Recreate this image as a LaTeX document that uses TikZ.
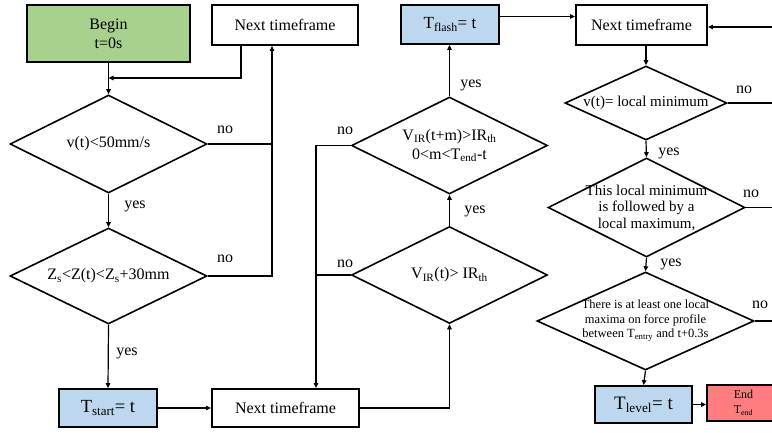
\documentclass[tikz,border=0pt]{standalone}
\usepackage{fontspec}
\setmainfont{Liberation Serif}
\usetikzlibrary{shapes.geometric,arrows.meta}
\definecolor{startgreen}{HTML}{A9D18E}
\definecolor{setblue}{HTML}{BDD7EE}
\definecolor{endred}{HTML}{FF7C80}
\begin{document}
\begin{tikzpicture}[x=1pt,y=-1pt,
  box/.style={draw, line width=1.8pt, inner sep=0pt, align=center, font=\fontsize{16}{19}\selectfont},
  dia/.style={draw, diamond, line width=1.6pt, inner sep=0pt},
  dtext/.style={align=center, inner sep=0pt, font=\fontsize{16}{19}\selectfont},
  lbl/.style={inner sep=0pt, font=\fontsize{16}{19}\selectfont},
  ln/.style={line width=1.2pt},
  arr/.style={line width=1.2pt, -{Triangle[length=5pt,width=4.5pt]}}]
\useasboundingbox (0,0) rectangle (772,432);

% boxes
\node[box, fill=startgreen, minimum width=163pt, minimum height=57pt] (begin) at (108.5,33.5) {Begin\\t=0s};
\node[box, minimum width=146pt, minimum height=40pt] (nt1) at (285,25) {Next timeframe};
\node[box, fill=setblue, minimum width=98pt, minimum height=38pt, font=\fontsize{18.5}{20}\selectfont] (tstart) at (108,408) {T\textsubscript{start}= t};
\node[box, minimum width=147pt, minimum height=38pt] (nt2) at (285.5,408) {Next timeframe};
\node[box, fill=setblue, minimum width=98pt, minimum height=39pt, font=\fontsize{17}{20}\selectfont] (tflash) at (450,24.5) {T\textsubscript{flash}= t};
\node[box, minimum width=131pt, minimum height=40pt] (nt3) at (641.5,25) {Next timeframe};
\node[box, fill=setblue, minimum width=97pt, minimum height=37pt, font=\fontsize{19}{21}\selectfont] (tlevel) at (643.5,404.5) {T\textsubscript{level}= t};
\node[box, fill=endred, minimum width=73pt, minimum height=36pt, font=\fontsize{12}{15}\selectfont] (end) at (743.5,403) {End\\T\textsubscript{end}};

% diamonds
\node[dia, minimum width=197pt, minimum height=98pt, label={[dtext]center:v(t)<50mm/s}] (d1) at (108.5,144) {};
\node[dia, minimum width=197pt, minimum height=96pt, label={[dtext]center:Z\textsubscript{s}<Z(t)<Z\textsubscript{s}+30mm}] (d2) at (108.5,276) {};
\node[dia, minimum width=196pt, minimum height=97pt, label={[dtext]center:V\textsubscript{IR}(t+m)>IR\textsubscript{th}\\0<m<T\textsubscript{end}-t}] (d3) at (449.5,145.5) {};
\node[dia, minimum width=196pt, minimum height=97pt, label={[dtext]center:V\textsubscript{IR}(t)> IR\textsubscript{th}}] (d4) at (449.5,275) {};
\node[dia, minimum width=162pt, minimum height=74pt, label={[dtext, font=\fontsize{15}{17}\selectfont]center:v(t)= local minimum}] (d5) at (646,103) {};
\node[dia, minimum width=197pt, minimum height=99pt, label={[dtext, font=\fontsize{15}{16.5}\selectfont]center:This local minimum\\is followed by a\\local maximum,}] (d6) at (646.5,207.5) {};
\node[dia, minimum width=217pt, minimum height=98pt, label={[dtext, font=\fontsize{12.5}{14.5}\selectfont]center:There is at least one local\\maxima on force profile\\between T\textsubscript{entry} and t+0.3s}] (d7) at (645.5,321) {};

% helper coordinates
\coordinate (j1) at (108.5,78);
\coordinate (c1) at ([xshift=-13pt]nt1.south);
\coordinate (c2) at ([xshift=30.5pt]nt2.north);
\coordinate (rtop) at (773,27);

% connectors, first column
\draw[arr] (begin.south) -- (d1.north);
\draw[arr] ([xshift=-44pt]nt1.south) |- (j1);
\draw[arr] (d1.south) -- (d2.north);
\draw[arr] (d2.south) -- (tstart.north);
\draw[ln] (d1.east) -- (d1.east -| c1);
\draw[arr] (d2.east) -| (c1);
\draw[arr] (tstart.east) -- (nt2.west);

% second column
\draw[arr] (nt2.east) -| (d4.south);
\draw[arr] (d4.north) -- (d3.south);
\draw[arr] (d3.north) -- (d3.north |- tflash.south);
\draw[ln] (d4.west) -- (d4.west -| c2);
\draw[arr] (d3.west) -| (c2);
\draw[arr] ([yshift=8pt]tflash.east) -- ([yshift=8pt]tflash.east -| nt3.west);

% third column
\draw[arr] (d5.north |- nt3.south) -- (d5.north);
\draw[arr] (d5.south) -- (d6.north);
\draw[arr] (d6.south) -- (d7.north);
\draw[arr] (d7.south) -- (tlevel.north);
\draw[arr] (tlevel.east) -- (tlevel.east -| end.west);
\draw[ln] (d5.east) -- (d5.east -| rtop);
\draw[ln] (d6.east) -- (d6.east -| rtop);
\draw[arr] (d7.east) -| (rtop) -- (rtop -| nt3.east);

% labels
\node[lbl] (n1) at (225,130) {no};
\node[lbl] (y1) at (135,206) {yes};
\node[lbl] (n2) at (225,259) {no};
\node[lbl] (y2) at (127,353) {yes};
\node[lbl] (n3) at (345,131) {no};
\node[lbl] (n4) at (345,264) {no};
\node[lbl] (y3) at (471,85) {yes};
\node[lbl] (y4) at (475,211) {yes};
\node[lbl] (n5) at (744,90) {no};
\node[lbl] (y5) at (669,153) {yes};
\node[lbl] (n6) at (751,194) {no};
\node[lbl] (y6) at (671,264) {yes};
\node[lbl] (n7) at (760,305) {no};
\end{tikzpicture}
\end{document}
